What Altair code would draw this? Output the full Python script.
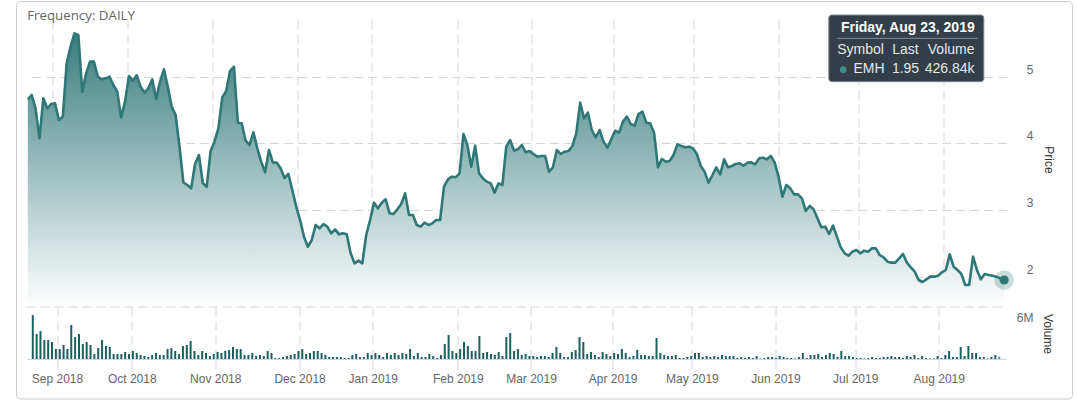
import altair as alt
import pandas as pd

# ---- data (one value per trading day, Aug 23 2018 .. Aug 23 2019)
price = [
    4.66, 4.725, 4.525, 4.075, 4.675, 4.525, 4.59, 4.60, 4.35, 4.40,
    5.20, 5.45, 5.65, 5.625, 4.775, 5.05, 5.225, 5.225, 5.00, 4.96,
    4.975, 5.00, 4.875, 4.775, 4.39, 4.625, 5.01, 4.94, 5.02, 4.85,
    4.76, 4.825, 4.96, 4.665, 4.925, 5.11, 4.85, 4.55, 4.425, 3.95,
    3.415, 3.375, 3.325, 3.69, 3.825, 3.40, 3.35, 3.885, 4.025, 4.225,
    4.69, 4.785, 5.085, 5.15, 4.31, 4.30, 4.04, 3.975, 4.165, 3.925,
    3.725, 3.565, 3.90, 3.715, 3.71, 3.625, 3.48, 3.54, 3.30, 3.05,
    2.85, 2.60, 2.45, 2.55, 2.775, 2.725,
    2.79, 2.75, 2.65, 2.71, 2.635, 2.65, 2.635, 2.35, 2.20, 2.24,
    2.20, 2.625, 2.85, 3.11, 3.025, 3.11, 3.16, 2.95, 2.94, 3.01,
    3.09, 3.25, 2.925, 2.925, 2.775, 2.75, 2.81, 2.775, 2.80, 2.85,
    2.85, 3.35, 3.46, 3.50, 3.49, 3.55, 4.14, 3.975, 3.65, 3.965,
    3.55, 3.475, 3.425, 3.40, 3.26, 3.40, 3.375, 3.95, 4.05, 3.89,
    3.91, 3.975, 3.865, 3.885, 3.84, 3.80, 3.81, 3.81, 3.575, 3.64,
    3.90, 3.84, 3.875, 3.885, 3.96, 4.15, 4.61, 4.375, 4.46, 4.20,
    4.09, 4.20, 4.025, 3.935, 4.06, 4.19, 4.16, 4.325, 4.40, 4.29,
    4.265, 4.44, 4.475, 4.31, 4.30, 4.16, 3.64, 3.765, 3.725, 3.735,
    3.825, 3.985,
    3.96, 3.94, 3.95, 3.925, 3.84, 3.66, 3.575, 3.41, 3.525, 3.64,
    3.535, 3.76, 3.64, 3.66, 3.69, 3.70, 3.665, 3.71, 3.715, 3.685,
    3.775, 3.785, 3.76, 3.81, 3.715, 3.50, 3.20, 3.375, 3.325, 3.235,
    3.235, 3.175, 2.985, 3.06, 3.01, 2.875, 2.74, 2.75, 2.64, 2.765,
    2.60, 2.44, 2.35, 2.315, 2.375, 2.40, 2.35, 2.39, 2.375, 2.425,
    2.425, 2.325, 2.29, 2.225, 2.21, 2.21, 2.275, 2.34, 2.21, 2.14,
    2.075, 1.95, 1.92, 1.96, 2.00, 2.00, 2.015, 2.065, 2.10, 2.335,
    2.15, 2.10, 2.04, 1.875, 1.875, 2.30, 2.10, 1.96, 2.04, 2.025,
    2.015, 2.00, 1.975, 1.95,
]

volume_m = [
    7.8, 4.44, 4.97, 3.37, 3.37, 3.02, 1.78, 1.78, 2.49, 1.78,
    6.04, 3.9, 4.44, 2.66, 3.02, 2.49, 0.89, 1.95, 3.37, 2.31,
    2.13, 0.89, 0.89, 0.89, 1.24, 0.89, 1.42, 1.07, 0.71, 0.53,
    0.36, 0.71, 1.07, 0.71, 0.71, 1.78, 1.95, 1.42, 0.89, 2.31,
    2.49, 3.2, 1.42, 0.71, 1.42, 1.07, 0.53, 0.89, 1.24, 1.07,
    1.42, 1.6, 2.13, 1.78, 1.78, 0.71, 0.71, 1.07, 0.53, 0.71,
    0.53, 1.42, 1.07, 0.18, 0.18, 0.36, 0.53, 0.71, 0.89, 1.42,
    1.78, 0.89, 1.07, 1.42, 1.42, 1.07, 0.71, 0.36, 0.36, 0.36,
    0.36, 0.18,
    0.18,
    0.71, 0.89, 0.36, 0.36, 1.07, 0.71, 1.07, 0.71, 0.36, 1.07,
    0.71, 1.07, 0.71, 1.07, 0.89, 1.78, 0.53, 1.07, 0.36, 0.36,
    0.89, 0.53, 0.18, 0.71, 2.66, 4.26, 1.42, 1.07, 1.78, 3.02,
    2.31, 1.42, 1.42, 4.08, 1.07, 1.24, 0.89, 0.71, 1.24, 0.53,
    3.9, 4.62, 1.42, 1.78, 0.71, 0.89, 0.53, 0.53, 0.36, 0.53,
    0.53, 0.36, 1.07, 2.13, 1.07, 0.36, 0.36, 1.24, 1.6, 3.9,
    3.02, 0.89, 1.24, 0.71, 0.36, 1.24, 0.89, 0.53, 1.07, 0.89,
    1.78, 1.07, 0.36, 0.53, 1.6, 0.71, 0.71, 0.53, 0.53, 3.73,
    1.07, 0.71, 0.53, 0.53,
    0.71, 0.18, 0.18, 0.36, 0.53, 1.07, 1.07, 0.36, 0.53, 0.36,
    0.53, 0.36, 0.71, 0.53, 0.53, 0.53, 0.18, 0.36, 0.18, 0.36,
    0.18, 0.53, 0.1, 0.18, 0.36, 0.36, 0.18, 0.53, 0.36, 0.18,
    0.18, 0.1, 0.36, 1.07, 0.18, 0.71, 0.71, 0.89, 0.36, 0.71,
    1.07, 0.89, 0.36, 1.42, 0.53, 0.53, 0.36, 0.18, 0.18, 0.1,
    0.18, 0.36, 0.18, 0.18, 0.36, 0.36, 0.53, 0.36, 0.36, 0.18,
    0.53, 0.36, 0.71, 0.18, 0.53, 0.18, 0.1, 0.1, 0.53, 0.18,
    0.71, 1.42, 0.36, 0.36, 2.13, 0.53, 2.31, 1.07, 1.07, 0.36,
    0.36, 0.1, 0.36, 0.71, 0.43,
]

month_labels = ["Sep 2018", "Oct 2018", "Nov 2018", "Dec 2018", "Jan 2019", "Feb 2019",
                "Mar 2019", "Apr 2019", "May 2019", "Jun 2019", "Jul 2019", "Aug 2019"]
month_pos = [6.3, 25.7, 47.4, 69.3, 88.3, 110.4, 129.4, 150.6, 171.2, 192.9, 213.6, 235.3]
price_ticks = [2, 3, 4, 5]
volume_ticks = [6e6]

title_text = "Frequency: DAILY"
tip_title = "Friday, Aug 23, 2019"
tip_head = ["Symbol", "Last", "Volume"]
tip_row = ["EMH", "1.95", "426.84k"]

# ---- styling
LINE = "#2f7778"
BAR = "#1c5f60"
GRID = "#d6d6d6"
AXL = "#ccd6eb"
DASH = [9, 5]
FONT = "Liberation Sans"

N = len(price)
df = pd.DataFrame({"idx": list(range(N)), "price": price,
                   "volume": [v * 1e6 for v in volume_m]})
one = pd.DataFrame({"k": [0]})

W, H1, H2 = 980, 287, 52
PMIN, PMAX = 1.545, 5.85
xscale = alt.Scale(domain=[-0.33, 251.6], nice=False, zero=False)

expr = ""
for p, lab in zip(month_pos, month_labels):
    expr += f"abs(datum.value - {p}) < 0.5 ? '{lab}' : "
expr += "''"

x_top = alt.X("idx:Q", scale=xscale,
              axis=alt.Axis(values=month_pos, grid=True, gridDash=DASH, gridColor=GRID,
                            labels=False, ticks=False, domain=False, title=None))
y_price = alt.Y("price:Q", scale=alt.Scale(domain=[PMIN, PMAX], nice=False, zero=False),
                axis=alt.Axis(orient="right", values=price_ticks, grid=True, gridDash=DASH,
                              gridColor=GRID, ticks=False, tickSize=0, domain=False,
                              labelAlign="right", labelPadding=26.5, labelBaseline="alphabetic",
                              labelOffset=-3.5, labelColor="#666666", labelFontSize=12,
                              labelFont=FONT, title=None))

base = alt.Chart(df).encode(x=x_top, y=y_price)

grad = alt.Gradient(gradient="linear", x1=0, x2=0, y1=0, y2=1,
                    stops=[alt.GradientStop(color="#397d7e", offset=0),
                           alt.GradientStop(color="#ffffff", offset=1)])
area = base.mark_area(color=grad, line=False).encode(y2=alt.datum(PMIN))
line = base.mark_line(color=LINE, strokeWidth=2.6, strokeJoin="round")
last = base.transform_filter(alt.datum.idx == N - 1)
halo = last.mark_circle(size=380, color=LINE, opacity=0.25)
dot = last.mark_circle(size=85, color=LINE, opacity=1)

frame = alt.Chart(one).mark_rect(filled=False, stroke="#cccccc", strokeWidth=1,
                                 cornerRadius=4).encode(
    x=alt.value(-10), x2=alt.value(1046), y=alt.value(-18.5), y2=alt.value(379))

freq = alt.Chart(one).mark_text(text=title_text, align="left", baseline="middle",
                                font="Open Sans", fontSize=13.3, color="#666666").encode(
    x=alt.value(0.7), y=alt.value(-4))

price_title = alt.Chart(one).mark_text(text="Price", angle=90, align="center",
                                       baseline="middle", font=FONT, fontSize=12,
                                       color="#333333").encode(
    x=alt.value(1022.3), y=alt.value(140))

tip_box = alt.Chart(one).mark_rect(fill="#333e48", stroke="#7d868e", strokeWidth=1,
                                   cornerRadius=3).encode(
    x=alt.value(802.3), x2=alt.value(957.3), y=alt.value(-5), y2=alt.value(61.7))
tip_sep = alt.Chart(one).mark_rule(color="#8a9096", strokeWidth=1).encode(
    x=alt.value(810.7), x2=alt.value(951.3), y=alt.value(18.3))
tip_t = alt.Chart(one).mark_text(text=tip_title, align="center", baseline="middle",
                                 font=FONT, fontSize=14, fontWeight="bold",
                                 color="#ffffff").encode(x=alt.value(881.3), y=alt.value(8.3))


def tip_txt(t, x, y, align):
    return alt.Chart(one).mark_text(text=t, align=align, baseline="middle", font=FONT,
                                    fontSize=14, color="#e6e6e6").encode(
        x=alt.value(x), y=alt.value(y))


tip_h = [tip_txt(tip_head[0], 810.7, 30, "left"), tip_txt(tip_head[1], 879, 30, "center"),
         tip_txt(tip_head[2], 948, 30, "right")]
tip_r = [tip_txt(tip_row[0], 858, 49.3, "right"), tip_txt(tip_row[1], 879, 49.3, "center"),
         tip_txt(tip_row[2], 948, 49.3, "right")]
tip_dot = alt.Chart(one).mark_circle(size=45, color="#3f8b8b", opacity=1).encode(
    x=alt.value(816.7), y=alt.value(49.7))

top = alt.layer(area, line, halo, dot, frame, freq, price_title, tip_box, tip_sep, tip_t,
                *tip_h, *tip_r, tip_dot).properties(width=W, height=H1)

# ---- volume panel
x_vol = alt.X("idx:Q", scale=xscale,
              axis=alt.Axis(values=month_pos, labelExpr=expr, grid=True, gridDash=DASH,
                            gridColor=GRID, ticks=True, tickSize=10, tickColor=AXL,
                            domain=True, domainColor=AXL, labelColor="#666666",
                            labelFontSize=12, labelFont=FONT, labelPadding=4,
                            labelFlush=False, labelOverlap=False, title=None))
y_vol = alt.Y("volume:Q", scale=alt.Scale(domain=[0, 9.24e6], nice=False),
              axis=alt.Axis(orient="right", values=volume_ticks, labelExpr="'6M'", grid=False,
                            ticks=False, tickSize=0, domain=False, labelAlign="right",
                            labelPadding=26.5, labelBaseline="alphabetic", labelOffset=-3.5,
                            labelColor="#666666", labelFontSize=12, labelFont=FONT,
                            title=None))
bars = alt.Chart(df).mark_bar(size=2).encode(
    x=x_vol, y=y_vol,
    color=alt.condition(alt.datum.idx == N - 1, alt.value("#5b9899"), alt.value(BAR)))
vtop = alt.Chart(one).mark_rule(color=GRID, strokeDash=DASH, strokeWidth=1).encode(
    x=alt.value(0), x2=alt.value(W), y=alt.value(0))
vol_title = alt.Chart(one).mark_text(text="Volume", angle=90, align="center",
                                     baseline="middle", font=FONT, fontSize=12,
                                     color="#333333").encode(
    x=alt.value(1021.5), y=alt.value(27))

bottom = alt.layer(vtop, bars, vol_title).properties(width=W, height=H2)

chart = alt.vconcat(top, bottom, spacing=0, bounds="flush").properties(
    padding={"left": 15.5, "top": 1, "right": 0, "bottom": 0},
    background="white",
).configure_view(strokeWidth=0)

chart.save("out.html", embed_options={"renderer": "svg", "actions": False})
